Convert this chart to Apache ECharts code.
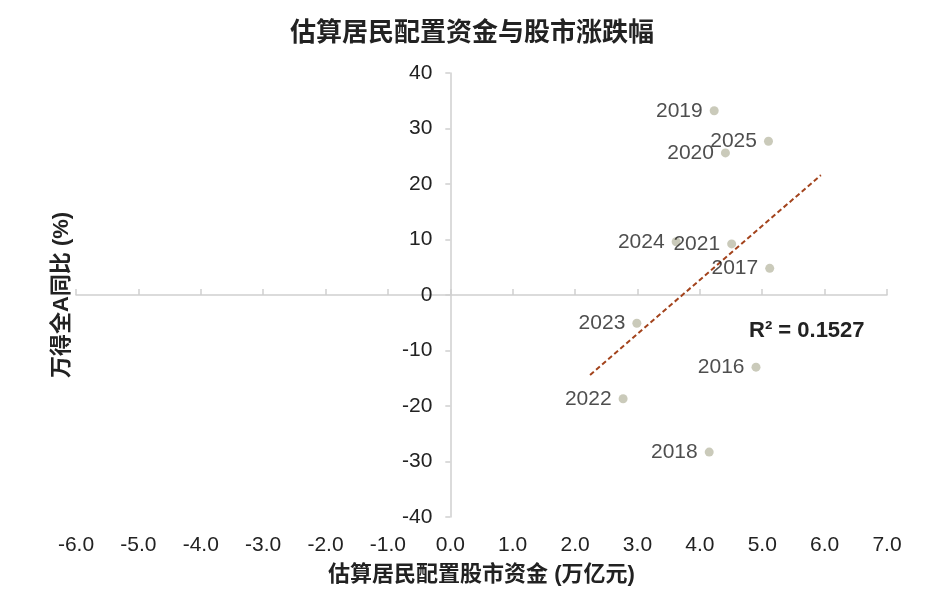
<!DOCTYPE html>
<html>
<head>
<meta charset="utf-8">
<script src="https://cdn.jsdelivr.net/npm/echarts@6/dist/echarts.min.js"></script>
<style>html,body{margin:0;padding:0;background:#fff}#c{width:944px;height:598px}</style>
</head>
<body>
<div id="c"></div>
<script>
// Data
var years = ['2019','2025','2020','2024','2021','2017','2023','2016','2022','2018'];
var fundsX = [4.23, 5.10, 4.41, 3.62, 4.51, 5.12, 2.99, 4.90, 2.77, 4.15];
var returnsY = [33.2, 27.7, 25.6, 9.6, 9.2, 4.8, -5.1, -13.0, -18.7, -28.3];
var trendX = [2.24, 5.94];
var trendY = [-14.4, 21.6];
var xTicks = [-6,-5,-4,-3,-2,-1,0,1,2,3,4,5,6,7];
var yTicks = [-40,-30,-20,-10,0,10,20,30,40];
var r2Text = 'R² = 0.1527';

var pts = years.map(function(y, i){ return {value:[fundsX[i], returnsY[i]], name:y}; });
var trend = trendX.map(function(x, i){ return [x, trendY[i]]; });

var G = {left:76, right:57, top:73, bottom:81};
var W = 944, xMin = xTicks[0], xMax = xTicks[xTicks.length-1];
var plotW = W - G.left - G.right;
var zeroLeft = G.left + plotW * (0 - xMin) / (xMax - xMin);

var chart = echarts.init(document.getElementById('c'));
var latin = '"Liberation Sans", Arial, sans-serif';
var cjk = '"Liberation Sans", "Noto Sans CJK SC", sans-serif';
var axisCol = '#cfcfcf';
chart.setOption({
  animation:false,
  backgroundColor:'#fff',
  title:{text:'估算居民配置资金与股市涨跌幅', left:'center', top:13,
    textStyle:{fontFamily:'"Noto Sans CJK SC", sans-serif', fontSize:26, fontWeight:'bold', color:'#222'}},
  grid:[
    {left:G.left, right:G.right, top:G.top, bottom:G.bottom},
    {left:zeroLeft, right:G.right, top:G.top, bottom:G.bottom}
  ],
  xAxis:[{
    gridIndex:0, type:'value', min:xMin, max:xMax, interval:1, position:'bottom',
    axisLine:{show:false, onZero:false}, axisTick:{show:false}, splitLine:{show:false},
    axisLabel:{margin:18, fontSize:21, color:'#222', fontFamily:latin,
      formatter:function(v){return v.toFixed(1);}},
    name:'估算居民配置股市资金 (万亿元)', nameLocation:'middle', nameGap:47,
    nameTextStyle:{fontFamily:cjk, fontSize:22, fontWeight:'bold', color:'#222'}
  },{
    gridIndex:0, type:'value', min:xMin, max:xMax, interval:1, position:'bottom',
    axisLine:{show:true, onZero:true, lineStyle:{color:axisCol, width:1.5}},
    axisTick:{show:true, inside:true, length:6, lineStyle:{color:axisCol, width:1.5}},
    axisLabel:{show:false}, splitLine:{show:false}
  },{
    gridIndex:1, type:'value', min:0, max:xMax, show:false
  }],
  yAxis:[{
    gridIndex:0, type:'value', min:yTicks[0], max:yTicks[yTicks.length-1], interval:10,
    axisLine:{show:false}, axisTick:{show:false}, axisLabel:{show:false}, splitLine:{show:false}
  },{
    gridIndex:1, type:'value', min:yTicks[0], max:yTicks[yTicks.length-1], interval:10, position:'left',
    axisLine:{show:true, onZero:false, lineStyle:{color:axisCol, width:1.5}},
    axisTick:{show:true, length:5, lineStyle:{color:axisCol, width:1.5}},
    splitLine:{show:false},
    axisLabel:{margin:18, fontSize:21, color:'#222', fontFamily:latin}
  }],
  graphic:[
    {type:'text', x:62, y:295, rotation:Math.PI/2,
      style:{text:'万得全A同比 (%)', fontFamily:cjk, fontSize:22, fontWeight:'bold', fill:'#222', align:'center', verticalAlign:'middle'}},
    {type:'text', left:749, top:320,
      style:{text:r2Text, fontFamily:latin, fontSize:22, fontWeight:'bold', fill:'#222'}}
  ],
  series:[{
    type:'line', xAxisIndex:0, yAxisIndex:0, data:trend, symbol:'none', silent:true,
    lineStyle:{color:'#a3431c', width:2, type:[5,3]}, z:1
  },{
    type:'scatter', xAxisIndex:0, yAxisIndex:0, data:pts, symbolSize:9, z:3,
    itemStyle:{color:'#bdbda9'},
    label:{show:true, position:'left', distance:7, fontSize:21, color:'#222', fontFamily:latin,
      formatter:function(p){return p.name;}}
  }]
});
</script>
</body>
</html>
